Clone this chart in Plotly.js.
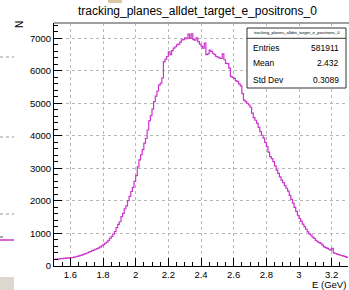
<!DOCTYPE html>
<html><head><meta charset="utf-8">
<script src="https://cdn.plot.ly/plotly-3.0.1.min.js"></script>
<style>html,body{margin:0;padding:0;background:#fff;}#chart{width:349px;height:290px;}</style>
</head><body><div id="chart"></div>
<script>
const histTitle = "tracking_planes_alldet_target_e_positrons_0";
const xAxisTitle = "E (GeV)";
const yAxisTitle = "N";
const xLow = 1.5;
const binWidth = 0.01;
const counts = [
 200,215,205,220,230,225,240,235,250,245,
 260,255,270,285,295,310,325,340,365,380,
 400,425,445,470,490,515,535,560,590,620,
 660,700,735,790,850,910,980,1060,1180,1280,
 1360,1520,1620,1760,1850,2010,2140,2290,2420,2600,
 2780,3050,3260,3420,3580,3780,3920,4180,4460,4620,
 4820,5050,5220,5380,5560,5620,5780,6280,6360,6440,
 6580,6500,6620,6700,6740,6800,6820,6880,6950,6960,
 7010,6990,7130,7000,7140,6960,6940,7010,6900,6820,
 6760,6700,6850,6500,6520,6640,6600,6540,6500,6440,
 6420,6390,6380,6520,6340,6230,6220,6080,5830,5800,
 5770,5700,5670,5600,5540,5300,5100,5050,5000,4950,
 4880,4700,4560,4480,4390,4260,4130,4020,3930,3800,
 3670,3500,3360,3300,3210,3080,2950,2850,2740,2640,
 2560,2470,2390,2300,2170,2050,1930,1800,1680,1560,
 1460,1380,1290,1210,1130,1050,990,950,890,850,
 790,745,720,695,640,590,565,540,515,490,
 540,405,385,365,350,330,320,305,290,265
];
const statsLabels = ["Entries", "Mean", "Std Dev"];
const statsValues = ["581911", "2.432", "0.3089"];

// step outline from bin edges
const xs = [], ys = [];
for (let i = 0; i < counts.length; i++) { xs.push(xLow + i * binWidth); ys.push(counts[i]); }
xs.push(xLow + counts.length * binWidth); ys.push(counts[counts.length - 1]);

const W = 349, H = 290, L = 54, R = 1, T = 23, B = 24;
const pw = W - L - R, ph = H - T - B;
const px = p => (p - L) / pw;
const py = p => (H - B - p) / ph;
const font = "Liberation Sans, Arial, Helvetica, sans-serif";

const trace = {
  x: xs, y: ys, type: 'scatter', mode: 'lines',
  line: {shape: 'hv', color: '#cc33cc', width: 1.2},
  hoverinfo: 'skip', showlegend: false
};

const ann = [
  {text: histTitle, x: px(197), y: py(11), xref: 'paper', yref: 'paper', showarrow: false, xanchor: 'center', yanchor: 'middle', font: {family: font, size: 12, color: '#000'}},
  {text: yAxisTitle, x: px(20), y: py(25), xref: 'paper', yref: 'paper', showarrow: false, textangle: -90, xanchor: 'center', yanchor: 'middle', font: {family: font, size: 10, color: '#000'}},
  {text: xAxisTitle, x: px(348), y: py(284), xref: 'paper', yref: 'paper', showarrow: false, xanchor: 'right', yanchor: 'middle', font: {family: font, size: 9.5, color: '#000'}},
  {text: histTitle, x: px(296.5), y: py(32.5), xref: 'paper', yref: 'paper', showarrow: false, xanchor: 'center', yanchor: 'middle', font: {family: font, size: 4.3, color: '#000'}}
];
const rowY = [47.5, 63.5, 80];
statsLabels.forEach((lab, i) => {
  ann.push({text: lab, x: px(250.5), y: py(rowY[i]), xref: 'paper', yref: 'paper', showarrow: false, xanchor: 'left', yanchor: 'middle', font: {family: font, size: 8.5, color: '#000'}});
  ann.push({text: statsValues[i], x: px(341), y: py(rowY[i]), xref: 'paper', yref: 'paper', showarrow: false, xanchor: 'right', yanchor: 'middle', font: {family: font, size: 8.5, color: '#000'}});
});

const shapes = [
  {type: 'line', xref: 'paper', yref: 'paper', x0: px(54), x1: px(349), y0: py(23), y1: py(23), line: {color: '#a0a0a0', width: 2}},
  {type: 'rect', xref: 'paper', yref: 'paper', x0: px(247), x1: px(346), y0: py(88), y1: py(28), line: {color: '#333', width: 1}, fillcolor: '#fff'},
  {type: 'line', xref: 'paper', yref: 'paper', x0: px(247), x1: px(346), y0: py(38.3), y1: py(38.3), line: {color: '#333', width: 1}},
  // screenshot fragments at the edges
  {type: 'line', xref: 'paper', yref: 'paper', x0: px(0), x1: px(14), y0: py(57), y1: py(57), line: {color: '#999', width: 1, dash: 'dot'}},
  {type: 'line', xref: 'paper', yref: 'paper', x0: px(0), x1: px(14), y0: py(137), y1: py(137), line: {color: '#999', width: 1, dash: 'dot'}},
  {type: 'line', xref: 'paper', yref: 'paper', x0: px(0), x1: px(14), y0: py(214), y1: py(214), line: {color: '#999', width: 1, dash: 'dot'}},
  {type: 'line', xref: 'paper', yref: 'paper', x0: px(0), x1: px(14), y0: py(240), y1: py(240), line: {color: '#cc33cc', width: 1.5}},
  {type: 'line', xref: 'paper', yref: 'paper', x0: px(0), x1: px(3), y0: py(237), y1: py(237), line: {color: '#555', width: 1}},
  {type: 'rect', xref: 'paper', yref: 'paper', x0: px(0), x1: px(14), y0: py(290), y1: py(277), line: {width: 0}, fillcolor: '#dcd8d0'},
  {type: 'rect', xref: 'paper', yref: 'paper', x0: px(108), x1: px(122), y0: py(3), y1: py(0), line: {width: 0}, fillcolor: '#d9c8a0'}
];

const layout = {
  width: W, height: H,
  margin: {l: L, r: R, t: T, b: B, pad: 0},
  paper_bgcolor: '#fff', plot_bgcolor: '#fff',
  showlegend: false,
  xaxis: {
    range: [1.5, 3.3], tickmode: 'linear', tick0: 1.6, dtick: 0.2,
    ticks: 'inside', ticklen: 8, tickcolor: '#000', tickwidth: 1,
    minor: {tickmode: 'linear', tick0: 1.5, dtick: 0.05, ticks: 'inside', ticklen: 4, tickcolor: '#000', showgrid: false},
    showgrid: true, gridcolor: '#b8b8b8', griddash: 'dot', gridwidth: 1,
    showline: true, linecolor: '#000', linewidth: 1, zeroline: false,
    tickfont: {family: font, size: 9.5, color: '#000'}, fixedrange: true
  },
  yaxis: {
    range: [0, 7470], tickmode: 'linear', tick0: 0, dtick: 1000, tickformat: 'd',
    ticks: 'inside', ticklen: 8, tickcolor: '#000', tickwidth: 1,
    minor: {tickmode: 'linear', tick0: 0, dtick: 200, ticks: 'inside', ticklen: 4, tickcolor: '#000', showgrid: false},
    showgrid: true, gridcolor: '#b8b8b8', griddash: 'dot', gridwidth: 1,
    showline: true, linecolor: '#000', linewidth: 1, zeroline: false,
    tickfont: {family: font, size: 9.5, color: '#000'}, fixedrange: true
  },
  annotations: ann,
  shapes: shapes
};

Plotly.newPlot('chart', [trace], layout, {displayModeBar: false, staticPlot: true});
</script>
</body></html>
